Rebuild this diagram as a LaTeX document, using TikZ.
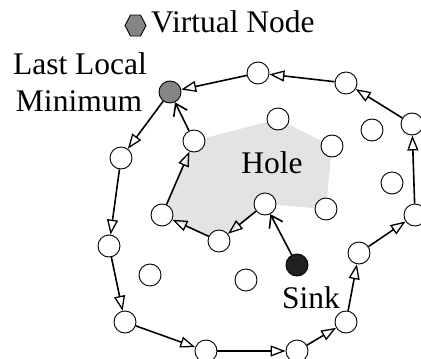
\documentclass[tikz,border=0pt]{standalone}
\usepackage{fontspec}
\setmainfont{Liberation Serif}
\usetikzlibrary{arrows.meta}
\begin{document}
\begin{tikzpicture}[x=1pt,y=-1pt,
  sensor/.style={circle,draw=black,line width=0.9pt,fill=white,minimum size=22pt,inner sep=0pt},
  route/.style={line width=1.6pt,-{Triangle[open,length=15pt,width=11pt,line width=1.3pt]}},
  probe/.style={line width=1.6pt,-{Straight Barb[length=11pt,width=15pt,line width=1.6pt]}},
  lbl/.style={font=\fontsize{31.5}{34}\selectfont,inner sep=0pt,anchor=base}]
\useasboundingbox (0,0) rectangle (421,359);

% hole region
\fill[black!11] (194,141) -- (278,119) -- (332,146) -- (326,209) -- (265,204)
  -- (219,241) -- (162,215) -- cycle;

% sensor nodes
\node[sensor,fill=black!48] (llm) at (170,92) {};
\node[sensor] (a)  at (121,158) {};
\node[sensor] (b)  at (194,141) {};
\node[sensor] (t1) at (258,73) {};
\node[sensor] (t2) at (346,83) {};
\node[sensor] (t3) at (412,124) {};
\node[sensor] (r1) at (415,215) {};
\node[sensor] (r2) at (359,253) {};
\node[sensor] (r3) at (346,322) {};
\node[sensor] (d1) at (297,351) {};
\node[sensor] (d2) at (206,351) {};
\node[sensor] (l3) at (125,322) {};
\node[sensor] (l2) at (109,246) {};
\node[sensor] (h1) at (265,204) {};
\node[sensor] (h2) at (219,241) {};
\node[sensor] (h3) at (162,215) {};
\node[sensor] (f1) at (278,119) {};
\node[sensor] (f2) at (332,146) {};
\node[sensor] (f3) at (326,209) {};
\node[sensor] (f4) at (372,130) {};
\node[sensor] (f5) at (392,183) {};
\node[sensor] (f6) at (150,275) {};
\node[sensor] (f7) at (246,280) {};
\node[circle,fill=black!87,draw=black,line width=0.9pt,minimum size=22pt,inner sep=0pt] (sink) at (297,265) {};

% perimeter route
\draw[route] (llm) -- (a);
\draw[route] (a) -- (l2);
\draw[route] (l2) -- (l3);
\draw[route] (l3) -- (d2);
\draw[route] (d2) -- (d1);
\draw[route] (d1) -- (r3);
\draw[route] (r3) -- (r2);
\draw[route] (r2) -- (r1);
\draw[route] (r1) -- (t3);
\draw[route] (t3) -- (t2);
\draw[route] (t2) -- (t1);
\draw[route] (t1) -- (llm);
% route along the hole
\draw[probe] (sink) -- (h1);
\draw[route] (h1) -- (h2);
\draw[route] (h2) -- (h3);
\draw[route] (h3) -- (b);
\draw[probe] (b) -- (llm);

% legend
\draw[line width=0.9pt,fill=black!48] (125,25.5) -- (130.5,15) -- (140.5,15) -- (146,25.5)
  -- (140.5,36) -- (130.5,36) -- cycle;
\node[lbl,anchor=base west] (leg) at (151,32) {Virtual Node};

% labels
\node[lbl] (lastlocal) at (80,74) {Last Local};
\node[lbl] (minimum) at (79,111) {Minimum};
\node[lbl] (hole) at (272,173) {Hole};
\node[lbl] (sinklbl) at (311,308) {Sink};
\end{tikzpicture}
\end{document}
